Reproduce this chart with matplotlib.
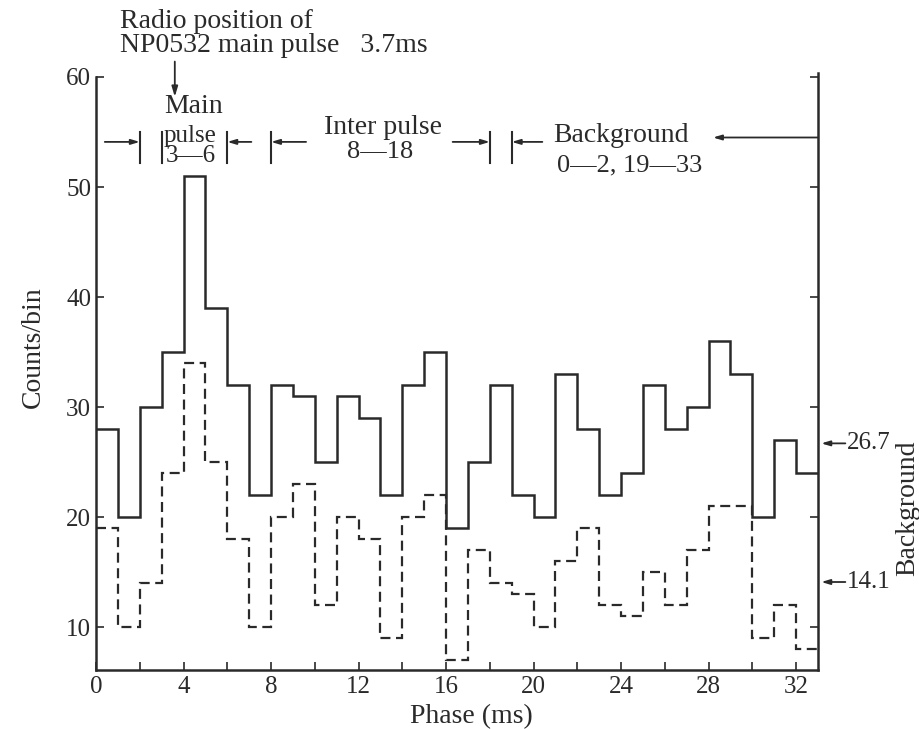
import matplotlib
matplotlib.use("Agg")
import matplotlib.pyplot as plt
import numpy as np

# ---- data ----
phase_edges = list(range(0, 34))  # 1 ms bins, 0..33 ms
total_counts = [28, 20, 30, 35, 51, 39, 32, 22, 32, 31, 25, 31, 29, 22, 32, 35,
                19, 25, 32, 22, 20, 33, 28, 22, 24, 32, 28, 30, 36, 33, 20, 27, 24]
lower_counts = [19, 10, 14, 24, 34, 25, 18, 10, 20, 23, 12, 20, 18, 9, 20, 22,
                7, 17, 14, 13, 10, 16, 19, 12, 11, 15, 12, 17, 21, 21, 9, 12, 8]
x_ticks = [0, 4, 8, 12, 16, 20, 24, 28, 32]
x_minor = [2, 6, 10, 14, 18, 22, 26, 30]
y_ticks = [10, 20, 30, 40, 50, 60]
bg_levels = [26.7, 14.1]
bg_labels = ["26.7", "14.1"]
region_marks = [2, 3, 6, 8, 18, 19]
radio_pos = 3.6

serif = ["Liberation Serif", "DejaVu Serif"]
plt.rcParams["font.family"] = serif
ink = "#2a2a2a"

fig = plt.figure(figsize=(9.19, 7.29), dpi=100)
ax = fig.add_axes([0.1045, 0.0809, 0.7856, 0.8135])

ax.stairs(total_counts, phase_edges, baseline=None, color=ink, lw=1.8)
ax.stairs(lower_counts, phase_edges, baseline=None, color=ink, lw=1.6,
          linestyle=(0, (4.5, 2.5)))

ax.set_xlim(0, 33)
ax.set_ylim(6.1, 60)
ax.spines["top"].set_visible(False)
for s in ["left", "right", "bottom"]:
    ax.spines[s].set_color(ink)
    ax.spines[s].set_linewidth(1.8)
ax.spines["right"].set_bounds(6.1, 60.4)

ax.set_xticks(x_ticks)
ax.set_xticks(x_minor, minor=True)
ax.set_yticks(y_ticks)
ax.tick_params(axis="both", which="both", direction="in", length=6, width=1.2,
               color=ink, labelcolor=ink, labelsize=18)
ax.tick_params(axis="y", right=True, labelright=False)
ax.tick_params(axis="x", which="major", pad=4)

ax.set_xlabel("Phase (ms)", fontsize=20, color=ink, labelpad=0)
ax.xaxis.set_label_coords(0.52, -0.058)
ax.set_ylabel("Counts/bin", fontsize=20, color=ink)
ax.yaxis.set_label_coords(-0.070, 0.545)

# ---- region annotation row ----
ya = 54.1
bar_lo, bar_hi = 52.2, 55.0
for xm in region_marks:
    ax.plot([xm, xm], [bar_lo, bar_hi], color=ink, lw=1.5, clip_on=False)

def arr(x0, x1, y=ya):
    ax.annotate("", xy=(x1, y), xytext=(x0, y),
                arrowprops=dict(arrowstyle="-|>,head_length=0.5,head_width=0.15",
                                color=ink, lw=1.3, shrinkA=0, shrinkB=0),
                annotation_clip=False)

arr(0.4, 2)       # ->| at 2
arr(7.1, 6)       # |<- at 6
arr(9.6, 8)       # |<- at 8
arr(16.3, 18)     # ->| at 18
arr(20.4, 19)     # |<- at 19
arr(33, 28.2, y=54.5)

tk = dict(color=ink, ha="center", va="center")
ax.text(4.45, 57.3, "Main", fontsize=20, **tk)
ax.text(4.3, 54.6, "pulse", fontsize=18, **tk)
ax.text(4.35, 52.8, "3\u20146", fontsize=18, **tk)
ax.text(13.1, 55.4, "Inter pulse", fontsize=20, **tk)
ax.text(13.0, 53.2, "8\u201418", fontsize=19, **tk)
ax.text(24.0, 54.7, "Background", fontsize=20, **tk)
ax.text(24.4, 52.0, "0\u20142, 19\u201433", fontsize=19, **tk)

ax.text(1.1, 65.0, "Radio position of", color=ink, fontsize=20, ha="left",
        va="center", clip_on=False)
ax.text(1.1, 62.9, "NP0532 main pulse   3.7ms", color=ink, fontsize=20,
        ha="left", va="center", clip_on=False)
ax.annotate("", xy=(radio_pos, 58.2), xytext=(radio_pos, 61.4),
            arrowprops=dict(arrowstyle="-|>,head_length=0.6,head_width=0.18",
                            color=ink, lw=1.3, shrinkA=0, shrinkB=0),
            annotation_clip=False)

# ---- background levels on the right ----
for lvl, lab in zip(bg_levels, bg_labels):
    ax.annotate("", xy=(33.15, lvl), xytext=(34.25, lvl),
                arrowprops=dict(arrowstyle="-|>,head_length=0.5,head_width=0.15",
                                color=ink, lw=1.3, shrinkA=0, shrinkB=0),
                annotation_clip=False)
    ax.text(34.3, lvl, lab, color=ink, fontsize=18, ha="left", va="center",
            clip_on=False)
ax.text(37.1, 20.8, "Background", color=ink, fontsize=20, rotation=90,
        ha="center", va="center", clip_on=False)

fig.savefig("out.png", dpi=100)
